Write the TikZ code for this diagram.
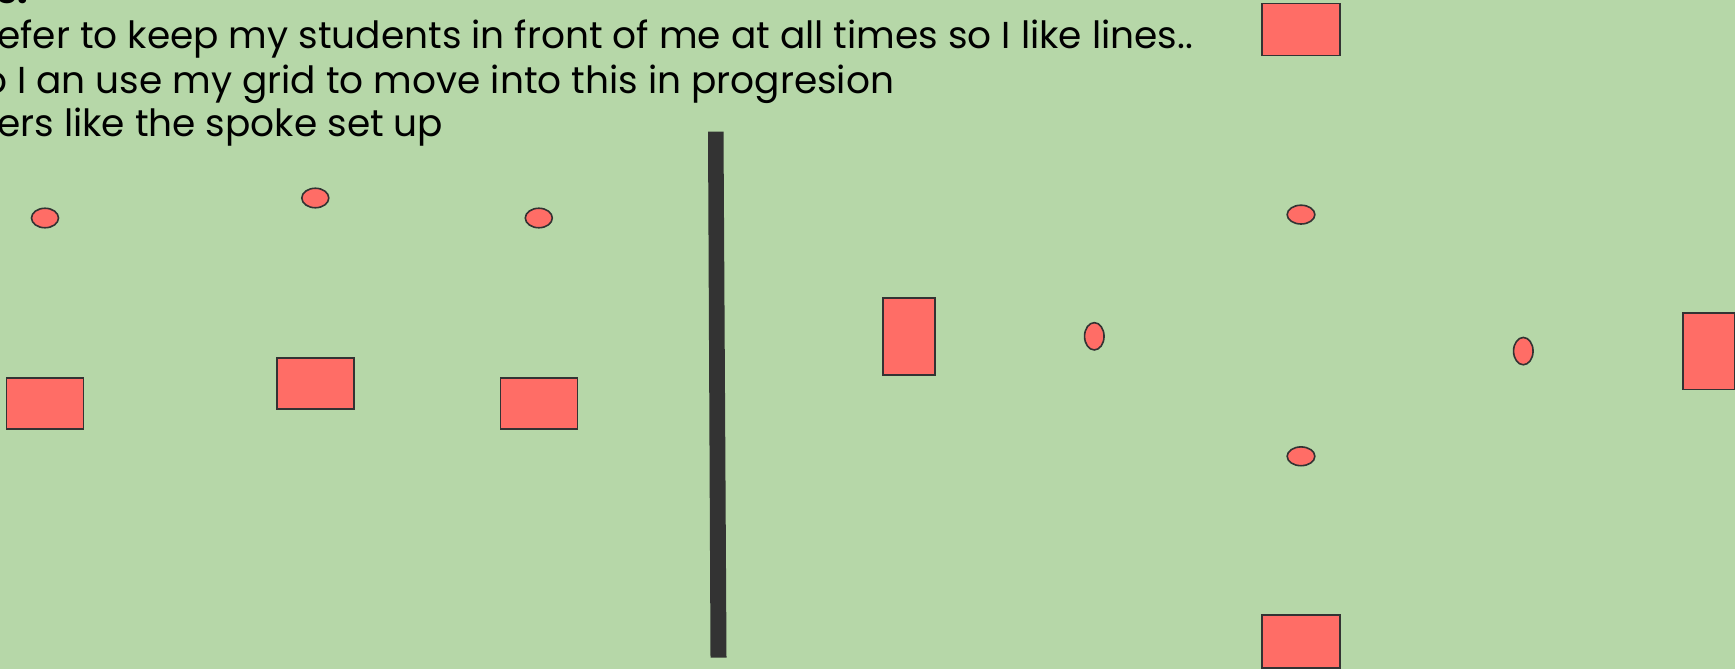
\documentclass[tikz,border=0pt]{standalone}
\usepackage{fontspec}
\setmainfont{Poppins}
\usetikzlibrary{shapes.geometric}
\definecolor{bg}{HTML}{B6D7A8}
\definecolor{pin}{HTML}{FF6D66}
\definecolor{ink}{HTML}{333333}
\begin{document}
\begin{tikzpicture}[x=1pt,y=-1pt,
  cone/.style={ellipse, draw=ink, fill=pin, line width=1.6pt, inner sep=0pt, minimum width=27pt, minimum height=19.5pt},
  vcone/.style={cone, minimum width=19.5pt, minimum height=27.3pt},
  hbox/.style={rectangle, draw=ink, fill=pin, line width=1.6pt, inner sep=0pt, minimum width=77pt, minimum height=51.5pt},
  vbox/.style={hbox, minimum width=52pt, minimum height=77pt},
  txt/.style={anchor=base west, inner sep=0pt, text=black, font=\fontsize{37.5}{44}\selectfont}]
\useasboundingbox (0,0) rectangle (1735,669);
\clip (0,0) rectangle (1735,669);
\fill[bg] (0,0) rectangle (1735,669);
% text
\node[txt, font=\fontsize{37.5}{44}\selectfont\bfseries] (t0) at (-4,3.5) {s:};
\node[txt] (t1) at (-3,48.5) {efer to keep my students in front of me at all times so I like lines..};
\node[txt] (t2) at (-17,93) {o I an use my grid to move into this in progresion};
\node[txt] (t3) at (-3,136.7) {ers like the spoke set up};
% left group
\node[cone] (c1) at (45,218) {};
\node[cone] (c2) at (315.3,198) {};
\node[cone] (c3) at (538.8,218) {};
\node[hbox] (b1) at (45,403.5) {};
\node[hbox] (b2) at (315.3,383.5) {};
\node[hbox] (b3) at (539,403.5) {};
% divider
\fill[ink] (708,131.5) -- (723.5,131.5) -- (726.5,657.5) -- (710.5,657.5) -- cycle;
% right group
\node[vbox] (v1) at (909,336.3) {};
\node[vcone] (c4) at (1094.3,336.3) {};
\node[hbox, minimum width=77.7pt, minimum height=52pt] (b4) at (1301,29.4) {};
\node[cone, minimum width=27.7pt, minimum height=18.8pt] (c5) at (1301,214.6) {};
\node[cone, minimum width=27.7pt, minimum height=18.8pt] (c6) at (1301,456.3) {};
\node[hbox, minimum width=77.7pt, minimum height=52.5pt] (b5) at (1301,641.5) {};
\node[vcone] (c7) at (1523.3,351.1) {};
\node[vbox, minimum width=51.6pt, minimum height=76.8pt] (v2) at (1708.5,351.1) {};
\end{tikzpicture}
\end{document}
